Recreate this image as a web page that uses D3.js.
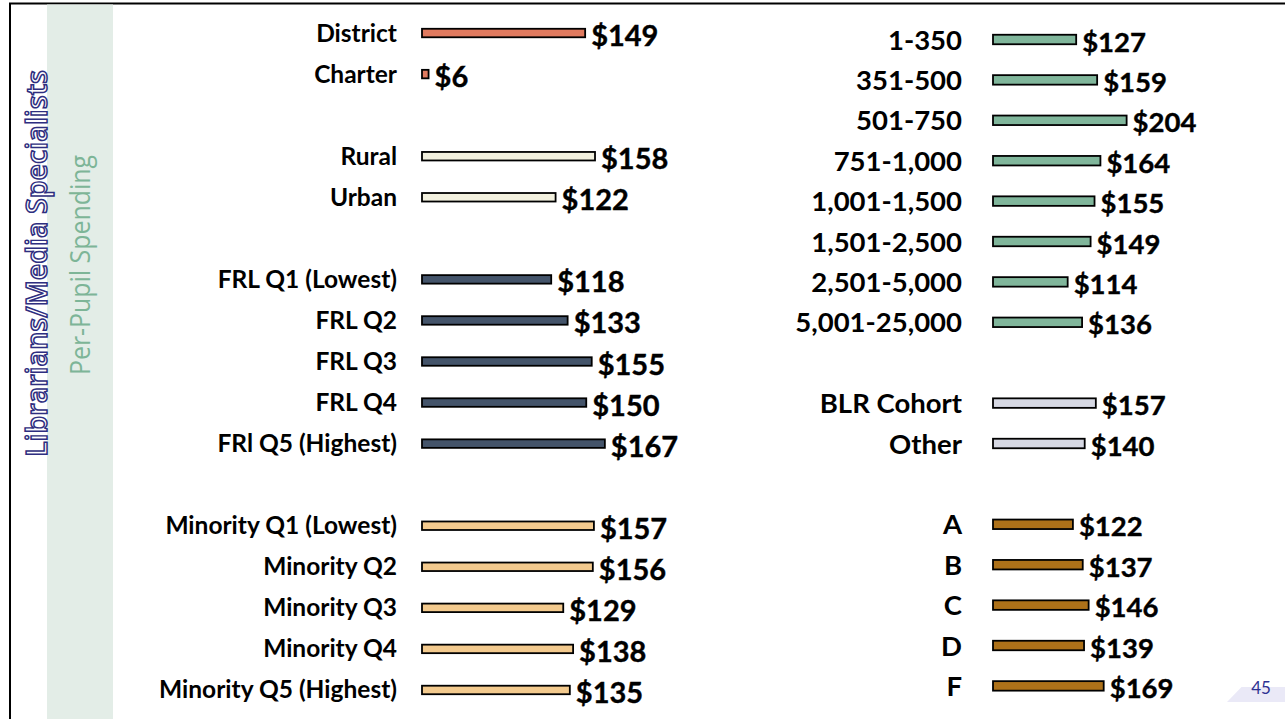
<!DOCTYPE html>
<html>
<head>
<meta charset="utf-8">
<script src="https://cdn.jsdelivr.net/npm/d3@7"></script>
<style>
  html, body { margin: 0; padding: 0; background: #fff; }
  svg { display: block; }
</style>
</head>
<body>
<svg id="chart" width="1285" height="719"></svg>
<script>
// ---------- DATA ----------
const titleText = "Librarians/Media Specialists";
const subtitleText = "Per-Pupil Spending";
const pageNumber = "45";

const leftCategories = ["District", "Charter", "Rural", "Urban",
  "FRL Q1 (Lowest)", "FRL Q2", "FRL Q3", "FRL Q4", "FRl Q5 (Highest)",
  "Minority Q1 (Lowest)", "Minority Q2", "Minority Q3", "Minority Q4", "Minority Q5 (Highest)"];
const leftValues = [149, 6, 158, 122, 118, 133, 155, 150, 167, 157, 156, 129, 138, 135];
const leftGroups = ["type", "type", "locale", "locale",
  "frl", "frl", "frl", "frl", "frl",
  "minority", "minority", "minority", "minority", "minority"];

const rightCategories = ["1-350", "351-500", "501-750", "751-1,000", "1,001-1,500",
  "1,501-2,500", "2,501-5,000", "5,001-25,000",
  "BLR Cohort", "Other",
  "A", "B", "C", "D", "F"];
const rightValues = [127, 159, 204, 164, 155, 149, 114, 136, 157, 140, 122, 137, 146, 139, 169];
const rightGroups = ["size", "size", "size", "size", "size", "size", "size", "size",
  "blr", "blr", "grade", "grade", "grade", "grade", "grade"];

const groupColors = {
  type: "#E07A5F", locale: "#F2F0DE", frl: "#44546A", minority: "#F3CA8E",
  size: "#80B69B", blr: "#D6D8E3", grade: "#AD7119"
};

// ---------- DRAW ----------
const svg = d3.select("#chart");

// frame
svg.append("rect").attr("x", 10).attr("y", 3.5).attr("width", 1300).attr("height", 730)
  .attr("fill", "none").attr("stroke", "#000").attr("stroke-width", 2);
// side band
svg.append("rect").attr("x", 47).attr("y", 4.5).attr("width", 66).attr("height", 720)
  .attr("fill", "#E3EDE7");

// title
svg.append("text")
  .attr("transform", "translate(47,263.5) rotate(-90)")
  .attr("text-anchor", "middle")
  .attr("font-family", "'Open Sans', 'Noto Sans', sans-serif")
  .attr("font-weight", 600)
  .attr("font-size", 29)
  .attr("textLength", 387).attr("lengthAdjust", "spacingAndGlyphs")
  .attr("fill", "#ffffff").attr("stroke", "#2E2E80").attr("stroke-width", 1.5)
  .text(titleText);
svg.append("text")
  .attr("transform", "translate(90,265) rotate(-90)")
  .attr("text-anchor", "middle")
  .attr("font-family", "'Open Sans', 'Noto Sans', sans-serif")
  .attr("font-size", 27)
  .attr("textLength", 220).attr("lengthAdjust", "spacingAndGlyphs")
  .attr("fill", "#7DB597")
  .text(subtitleText);

// build slot domain with a gap between groups
function slotDomain(cats, groups) {
  const dom = [];
  cats.forEach((c, i) => {
    if (i > 0 && groups[i] !== groups[i - 1]) dom.push("__gap" + i);
    dom.push(c);
  });
  return dom;
}

function drawPanel(cfg) {
  const data = cfg.cats.map((c, i) => ({ cat: c, val: cfg.vals[i], grp: cfg.groups[i] }));
  const y = d3.scaleBand().domain(slotDomain(cfg.cats, cfg.groups))
    .range(cfg.yRange).padding(0);
  const x = d3.scaleLinear().domain([0, cfg.xMax]).range(cfg.xRange);
  const g = svg.append("g");
  const cy = d => y(d.cat) + y.bandwidth() / 2;

  g.selectAll("rect.bar").data(data).join("rect")
    .attr("class", "bar")
    .attr("x", x(0))
    .attr("y", d => cy(d) - cfg.barH / 2)
    .attr("width", d => x(d.val) - x(0))
    .attr("height", cfg.barH)
    .attr("fill", d => groupColors[d.grp])
    .attr("stroke", "#000").attr("stroke-width", 1.8);

  g.selectAll("text.cat").data(data).join("text")
    .attr("class", "cat")
    .attr("x", x(0) - cfg.labelGap)
    .attr("y", d => cy(d) + cfg.labelDy)
    .attr("text-anchor", "end")
    .attr("font-family", "Lato, 'Open Sans', sans-serif")
    .attr("font-weight", 700)
    .attr("font-size", cfg.labelFs)
    .attr("fill", "#000")
    .text(d => d.cat);

  g.selectAll("text.val").data(data).join("text")
    .attr("class", "val")
    .attr("x", d => x(d.val) + cfg.valGap)
    .attr("y", d => cy(d) + cfg.valDy)
    .attr("font-family", "Lato, 'Open Sans', sans-serif")
    .attr("font-weight", 700)
    .attr("font-size", cfg.valFs)
    .attr("fill", "#000")
    .attr("stroke", "#000").attr("stroke-width", 0.4)
    .text(d => "$" + d.val);
}

drawPanel({
  cats: leftCategories, vals: leftValues, groups: leftGroups,
  yRange: [12.5, 710.5], xRange: [422, 641], xMax: 200,
  barH: 8.5, labelGap: 25, labelFs: 24.5, labelDy: 8.5,
  valGap: 6, valFs: 29, valDy: 13
});
drawPanel({
  cats: rightCategories, vals: rightValues, groups: rightGroups,
  yRange: [19.3, 706.1], xRange: [993, 1156.75], xMax: 250,
  barH: 9.5, labelGap: 31, labelFs: 27.5, labelDy: 10,
  valGap: 6, valFs: 27.5, valDy: 12
});

// page number corner
svg.append("path")
  .attr("d", d3.line()([[1241.5, 687], [1285, 687], [1285, 702], [1227, 702]]) + "Z")
  .attr("fill", "#EAE9F7");
svg.append("text")
  .attr("x", 1261).attr("y", 694)
  .attr("text-anchor", "middle")
  .attr("font-family", "Lato, 'Open Sans', sans-serif")
  .attr("font-size", 17)
  .attr("fill", "#2E3192")
  .text(pageNumber);
</script>
</body>
</html>
